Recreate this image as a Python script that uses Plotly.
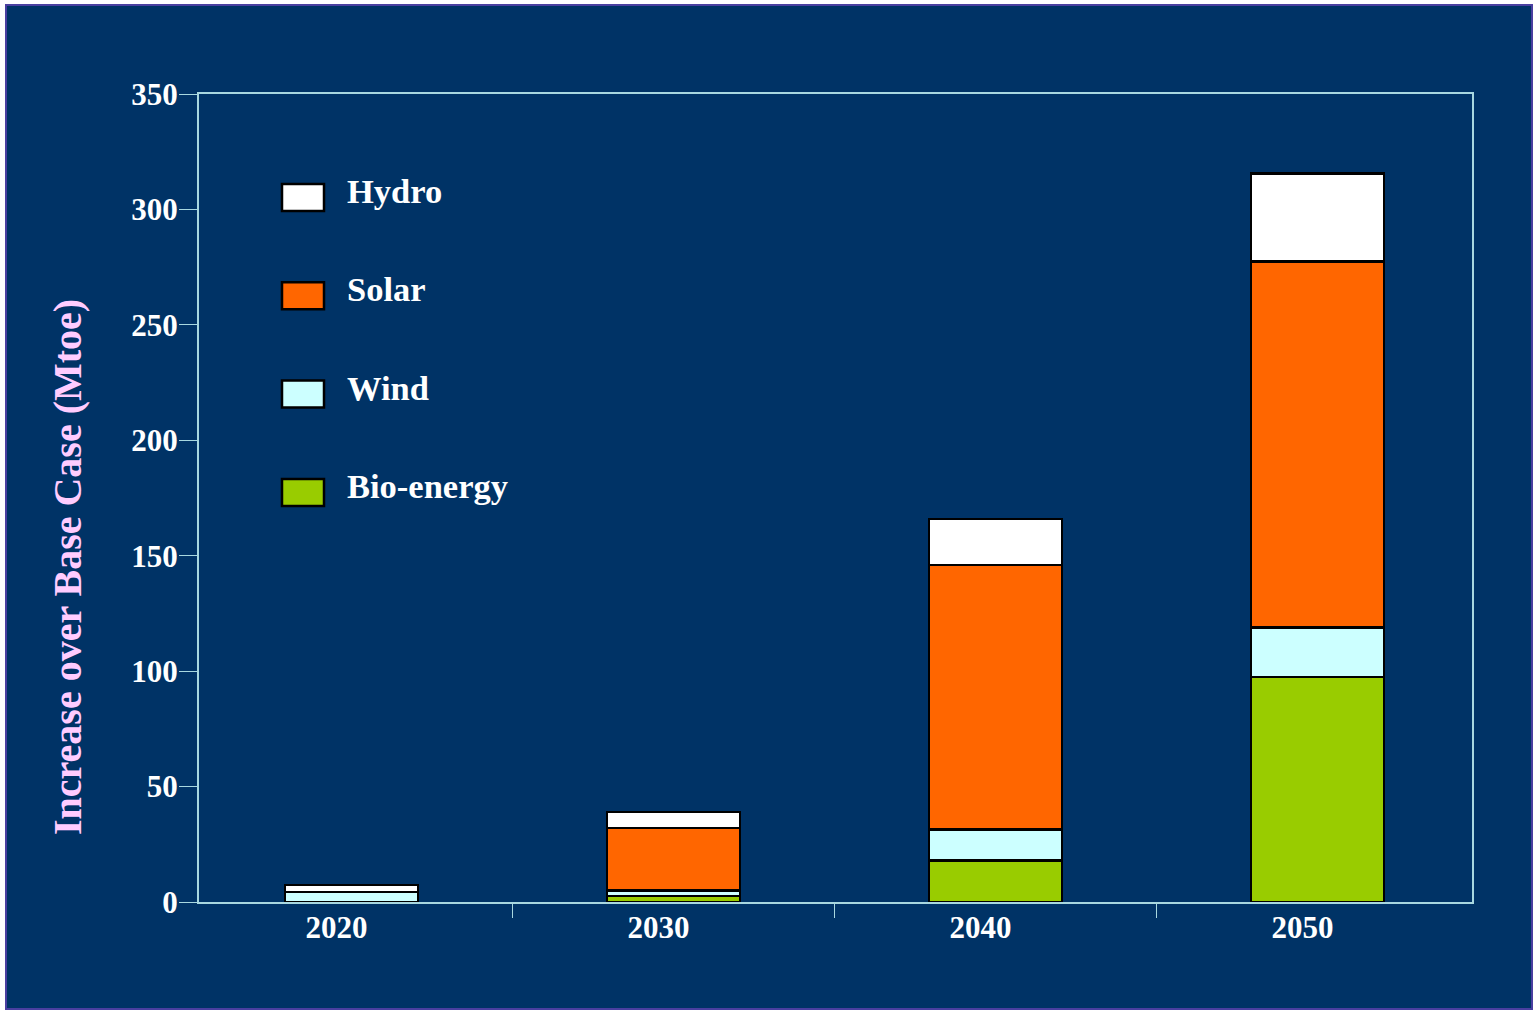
import plotly.graph_objects as go

# Increase in renewable supply over the base case, Mtoe, stacked by source
years = ["2020", "2030", "2040", "2050"]
bio_energy = [0, 2.5, 18, 97.5]
wind = [4.3, 2.5, 13.5, 21.5]
solar = [0, 27, 114.5, 158.5]
hydro = [3.1, 7, 20, 38]

series_names = ["Hydro", "Solar", "Wind", "Bio-energy"]
series_colors = {"Hydro": "#FFFFFF", "Solar": "#FF6600", "Wind": "#CCFFFF", "Bio-energy": "#99CC00"}
series_values = {"Hydro": hydro, "Solar": solar, "Wind": wind, "Bio-energy": bio_energy}

y_ticks = [0, 50, 100, 150, 200, 250, 300, 350]

NAVY = "#003366"
AXIS = "#A8D8E0"
FONT = "Liberation Serif"

W, H = 1537, 1010
L, R, T, B = 199, 65, 94, 108
PW, PH = W - L - R, H - T - B


def px_x(x):
    return (x - L) / PW


def px_y(y):
    return (H - B - y) / PH


fig = go.Figure()

# stack from the bottom up: bio-energy, wind, solar, hydro
for name in ["Bio-energy", "Wind", "Solar", "Hydro"]:
    fig.add_trace(go.Bar(
        x=years,
        y=series_values[name],
        name=name,
        width=0.413,
        marker=dict(color=series_colors[name], line=dict(color="black", width=2.5)),
        showlegend=False,
    ))

shapes = [
    # outer navy panel with thin frame
    dict(type="rect", xref="paper", yref="paper",
         x0=px_x(6), x1=px_x(1532), y0=px_y(1009), y1=px_y(5),
         fillcolor=NAVY, line=dict(color="#4A3FA0", width=2), layer="below"),
]
annotations = []

# legend: swatches and labels
for i, name in enumerate(series_names):
    cy = 191 + i * 98.3
    shapes.append(dict(
        type="rect", xref="paper", yref="paper",
        x0=px_x(282), x1=px_x(324), y0=px_y(cy + 20), y1=px_y(cy - 7),
        fillcolor=series_colors[name], line=dict(color="black", width=2.5),
    ))
    annotations.append(dict(
        xref="paper", yref="paper", x=px_x(345), y=px_y(cy),
        xanchor="left", yanchor="middle", showarrow=False,
        text=name, font=dict(family=FONT, size=34.5, color="white", weight="bold"),
    ))

# y-axis title
annotations.append(dict(
    xref="paper", yref="paper", x=px_x(67), y=px_y(567),
    xanchor="center", yanchor="middle", showarrow=False, textangle=-90,
    text="Increase over Base Case (Mtoe)",
    font=dict(family=FONT, size=40, color="#FFCCFF", weight="bold"),
))

fig.update_layout(
    width=W, height=H,
    margin=dict(l=L, r=R, t=T, b=B, pad=0),
    barmode="stack",
    paper_bgcolor="white",
    plot_bgcolor=NAVY,
    shapes=shapes,
    annotations=annotations,
    xaxis=dict(
        type="category",
        range=[-0.474, 3.48],
        showline=True, linecolor=AXIS, linewidth=2, mirror=True,
        ticks="outside", tickson="boundaries", ticklen=14, tickwidth=1, tickcolor=AXIS,
        ticklabelshift=-15, ticklabelstandoff=-3,
        tickfont=dict(family=FONT, size=31, color="white", weight="bold"),
        showgrid=False, zeroline=False,
    ),
    yaxis=dict(
        range=[0, 350],
        tickvals=y_ticks, ticktext=[str(v) for v in y_ticks],
        showline=True, linecolor=AXIS, linewidth=2, mirror=True,
        ticks="outside", ticklen=18, tickwidth=1, tickcolor=AXIS,
        ticklabelstandoff=-5,
        tickfont=dict(family=FONT, size=31, color="white", weight="bold"),
        showgrid=False, zeroline=False,
    ),
)

fig.write_html("out.html")
